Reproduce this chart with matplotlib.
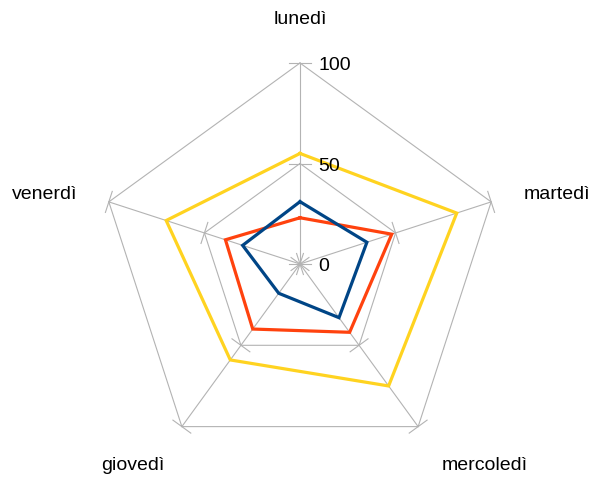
import numpy as np
import matplotlib
matplotlib.use("Agg")
import matplotlib.pyplot as plt

plt.rcParams['font.family'] = ['Liberation Sans', 'DejaVu Sans']

days = ['lunedì', 'martedì', 'mercoledì', 'giovedì', 'venerdì']
serie_blu = [31, 35, 33, 18, 30]
serie_rossa = [23, 48, 42, 40, 39]
serie_gialla = [55, 82, 75, 59, 70]
ticks = [0, 50, 100]

GRID = '#b3b3b3'
PX = 2.01  # pixels per unit on the radial scale

# spoke angles, clockwise starting from the top
angles = np.pi / 2 - np.arange(len(days)) * 2 * np.pi / len(days)


def to_xy(values):
    v = np.asarray(values, dtype=float)
    x = v * np.cos(angles)
    y = v * np.sin(angles)
    return np.append(x, x[0]), np.append(y, y[0])


fig = plt.figure(figsize=(5.93, 4.81), dpi=100)
ax = fig.add_axes([0, 0, 1, 1])
ax.set_xlim(-300 / PX, (593 - 300) / PX)
ax.set_ylim(-216 / PX, 265 / PX)
ax.axis('off')

# rings and spokes
for t in ticks[1:]:
    gx, gy = to_xy([t] * len(days))
    ax.plot(gx, gy, color=GRID, lw=0.8, zorder=1)
for a in angles:
    ax.plot([0, 100 * np.cos(a)], [0, 100 * np.sin(a)], color=GRID, lw=0.8, zorder=1)
    # little tick marks across each spoke
    for t in ticks:
        cx, cy = t * np.cos(a), t * np.sin(a)
        px, py = -np.sin(a) * 5.5, np.cos(a) * 5.5
        ax.plot([cx - px, cx + px], [cy - py, cy + py], color=GRID, lw=0.8, zorder=1)

for serie, col in [(serie_gialla, '#ffd320'), (serie_rossa, '#ff420e'), (serie_blu, '#004586')]:
    sx, sy = to_xy(serie)
    ax.plot(sx, sy, color=col, lw=2.3, zorder=3, solid_joinstyle='miter')

# scale labels sit on top of the series lines
for t in ticks:
    ax.text(9, t, str(t), fontsize=14, ha='left', va='center_baseline',
            color='black', zorder=5)

label_pos = [(0, 122), (128, 35), (92, -100), (-83, -100), (-127, 35)]
for name, (lx, ly) in zip(days, label_pos):
    ax.text(lx, ly, name, fontsize=14, ha='center', va='center', color='black')

fig.savefig('out.png', dpi=100)
